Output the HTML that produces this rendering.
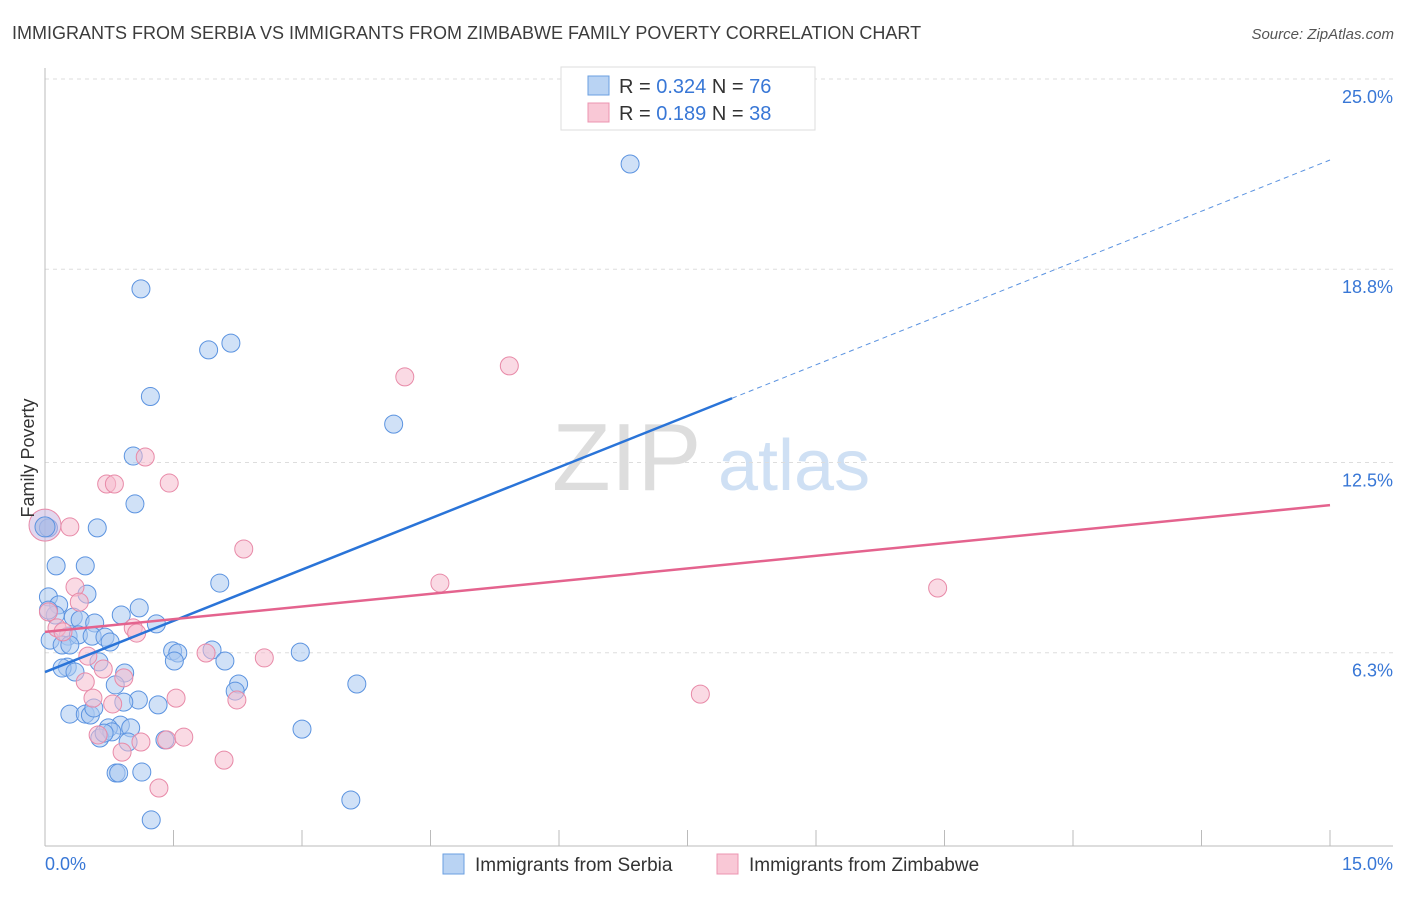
<!DOCTYPE html>
<html><head><meta charset="utf-8"><style>
body{margin:0;background:#fff;font-family:"Liberation Sans",sans-serif;}
svg text{font-family:"Liberation Sans",sans-serif;}
</style></head><body>
<svg id="chart" width="1406" height="892" xmlns="http://www.w3.org/2000/svg">
<text x="12" y="39" font-size="18" fill="#3c3c3c">IMMIGRANTS FROM SERBIA VS IMMIGRANTS FROM ZIMBABWE FAMILY POVERTY CORRELATION CHART</text>
<text x="1394" y="39" font-size="15" fill="#555" text-anchor="end" font-style="italic">Source: ZipAtlas.com</text>
<text x="552" y="490" font-size="96" fill="#ddd" font-family="Liberation Serif">ZIP</text>
<text x="718" y="490" font-size="72" fill="#cfe0f4">atlas</text>
<g id="grid"></g><g id="axes"></g><g id="marks"></g><g id="lines"></g>
<text transform="translate(34,458) rotate(-90)" font-size="18" fill="#333" text-anchor="middle">Family Poverty</text>
<g>
<rect x="561" y="67" width="254" height="63" fill="#fff" stroke="#ddd"/>
<rect x="588" y="76" width="21" height="19" fill="#b9d3f3" stroke="#6a9fe0"/>
<rect x="588" y="103" width="21" height="19" fill="#f9c8d6" stroke="#ec94b0"/>
<text x="619" y="93" font-size="20" fill="#333">R = <tspan fill="#3877d6">0.324</tspan>   N = <tspan fill="#3877d6">76</tspan></text>
<text x="619" y="120" font-size="20" fill="#333">R =  <tspan fill="#3877d6">0.189</tspan>   N = <tspan fill="#3877d6">38</tspan></text>
</g>
<g>
<rect x="443" y="854" width="21" height="20" fill="#b9d3f3" stroke="#6a9fe0"/>
<text x="475" y="871" font-size="19" fill="#333">Immigrants from Serbia</text>
<rect x="717" y="854" width="21" height="20" fill="#f9c8d6" stroke="#ec94b0"/>
<text x="749" y="871" font-size="19" fill="#333">Immigrants from Zimbabwe</text>
</g>
</svg>
<script>
const yTicks=[25.0,18.8,12.5,6.3];
const yTickLabels=["25.0%","18.8%","12.5%","6.3%"];
const xTickLabels=["0.0%","15.0%"];
const serbiaX=[6.83,1.12,1.91,2.17,1.23,4.07,1.03,1.05,0.61,0.04,0.13,0.47,2.04,0.49,0.04,0.16,1.10,0.89,0.12,0.33,0.41,0.58,1.30,0.06,0.27,0.39,0.55,0.70,0.76,0.20,0.29,2.98,1.49,1.55,1.95,1.51,2.10,0.26,0.63,0.93,0.20,0.35,0.82,2.26,3.64,2.22,1.09,0.92,1.32,3.00,0.29,0.47,0.53,0.57,0.88,1.00,0.74,0.64,0.78,0.69,0.97,1.40,0.83,0.86,1.13,3.57,1.24,0.04];
const serbiaY=[22.23,18.16,16.17,16.39,14.65,13.75,12.71,11.15,10.37,10.37,9.13,9.13,8.57,8.21,8.12,7.86,7.76,7.53,7.53,7.46,7.37,7.27,7.24,6.71,6.84,6.88,6.84,6.81,6.65,6.55,6.55,6.32,6.36,6.29,6.39,6.03,6.03,5.83,6.00,5.64,5.80,5.67,5.25,5.28,5.28,5.05,4.76,4.69,4.60,3.81,4.30,4.30,4.27,4.50,3.94,3.85,3.85,3.52,3.72,3.68,3.39,3.46,2.38,2.38,2.41,1.50,0.85,7.69];
const zimX=[5.42,4.20,1.17,0.72,0.81,1.45,0.29,2.32,0.35,0.40,4.61,10.42,0.14,0.21,1.03,1.07,0.50,1.88,2.56,0.68,0.92,0.47,0.56,1.53,2.24,7.65,0.79,0.62,0.90,1.12,1.42,1.62,2.09,1.33,0.04];
const zimY=[15.65,15.29,12.68,11.80,11.80,11.83,10.40,9.68,8.44,7.95,8.57,8.41,7.11,6.98,7.11,6.94,6.19,6.29,6.13,5.77,5.48,5.35,4.82,4.82,4.76,4.95,4.63,3.62,3.06,3.39,3.46,3.55,2.80,1.89,7.63];
const serbiaTrend=[5.67,22.36];
const zimTrend=[6.98,11.11];
const serbiaSolidEnd=8.02;
const NS="http://www.w3.org/2000/svg";
const X0=45,X1=1330,Y0=846,PY=30.68;
function xs(v){return X0+v/15*(X1-X0);}
function ys(v){return Y0-v*PY;}
function mk(tag,attrs,parent){const e=document.createElementNS(NS,tag);for(const k in attrs)e.setAttribute(k,attrs[k]);document.getElementById(parent).appendChild(e);return e;}
yTicks.forEach((t,i)=>{
 const g=mk('line',{x1:45,x2:1393,y1:ys(t),y2:ys(t),stroke:'#ddd','stroke-dasharray':'4,4'},'grid');
 
 
 const tx=mk('text',{x:1393,y:ys(t)+24,'font-size':18,fill:'#3877d6','text-anchor':'end'},'axes');
 tx.textContent=yTickLabels[i];
 
 
});
const ax=mk('line',{x1:45,x2:45,y1:68,y2:846,stroke:'#bbb'},'axes');


const bx=mk('line',{x1:45,x2:1393,y1:846,y2:846,stroke:'#bbb'},'axes');


for(let i=1;i<=10;i++){const t=mk('line',{x1:xs(i*1.5),x2:xs(i*1.5),y1:830,y2:846,stroke:'#bbb'},'axes');
 
 }
[[0,'start',45],[15,'end',1393]].forEach((d,i)=>{const t=mk('text',{x:d[2],y:870,'font-size':18,fill:'#3877d6','text-anchor':d[1]},'axes');t.textContent=xTickLabels[i];
 
 });
function dot(x,y,r,fill,stroke,name){const c=mk('circle',{cx:xs(x),cy:ys(y),r:r,fill:fill,'fill-opacity':0.55,stroke:stroke,'stroke-width':1},'marks');
 
 }
serbiaX.forEach((x,i)=>dot(x,serbiaY[i],9,'#a9c8f0','#5b93e0','serbia-point'));
zimX.forEach((x,i)=>dot(x,zimY[i],9,'#f6bccd','#e88aa8','zimbabwe-point'));
dot(0,10.46,16,'#c9b6e0','#e88aa8','zimbabwe-point-large');
dot(0,10.4,10,'#9fb8e6','#5b93e0','serbia-point-large');
function ty(t,x){return t[0]+(t[1]-t[0])*x/15;}
const l1=mk('line',{x1:xs(0),y1:ys(ty(serbiaTrend,0)),x2:xs(serbiaSolidEnd),y2:ys(ty(serbiaTrend,serbiaSolidEnd)),stroke:'#2a74d8','stroke-width':2.5},'lines');


const l2=mk('line',{x1:xs(serbiaSolidEnd),y1:ys(ty(serbiaTrend,serbiaSolidEnd)),x2:xs(15),y2:ys(ty(serbiaTrend,15)),stroke:'#5b93e0','stroke-width':1,'stroke-dasharray':'5,4'},'lines');


const l3=mk('line',{x1:xs(0),y1:ys(ty(zimTrend,0)),x2:xs(15),y2:ys(ty(zimTrend,15)),stroke:'#e4638e','stroke-width':2.5},'lines');


</script>
</body></html>
